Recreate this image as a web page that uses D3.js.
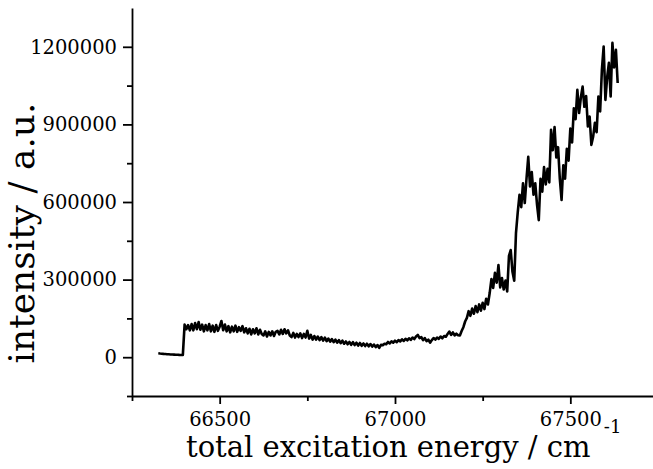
<!DOCTYPE html>
<html>
<head>
<meta charset="utf-8">
<script src="https://cdn.jsdelivr.net/npm/d3@7"></script>
<style>
  html, body { margin: 0; padding: 0; background: #fff; }
  svg { display: block; }
</style>
</head>
<body>
<svg id="chart" width="653" height="469"></svg>
<script>
// Scan grid (cm^-1)
const energies = [
  66325,66330,66335,66340,66345,66350,66355,66360,66365,66370,
  66375,66380,66385,66390,66395,66400,66405,66410,66415,66420,
  66425,66430,66435,66440,66445,66450,66455,66460,66465,66470,
  66475,66480,66485,66490,66495,66500,66505,66510,66515,66520,
  66525,66530,66535,66540,66545,66550,66555,66560,66565,66570,
  66575,66580,66585,66590,66595,66600,66605,66610,66615,66620,
  66625,66630,66635,66640,66645,66650,66655,66660,66665,66670,
  66675,66680,66685,66690,66695,66700,66705,66710,66715,66720,
  66725,66730,66735,66740,66745,66750,66755,66760,66765,66770,
  66775,66780,66785,66790,66795,66800,66805,66810,66815,66820,
  66825,66830,66835,66840,66845,66850,66855,66860,66865,66870,
  66875,66880,66885,66890,66895,66900,66905,66910,66915,66920,
  66925,66930,66935,66940,66945,66950,66955,66960,66965,66970,
  66975,66980,66985,66990,66995,67000,67005,67010,67015,67020,
  67025,67030,67035,67040,67045,67050,67055,67060,67065,67070,
  67075,67080,67085,67090,67095,67100,67105,67110,67115,67120,
  67125,67130,67135,67140,67145,67150,67155,67160,67165,67170,
  67175,67180,67185,67190,67195,67200,67205,67210,67215,67220,
  67225,67230,67235,67240,67245,67250,67255,67260,67265,67270,
  67275,67280,67285,67290,67295,67300,67305,67310,67315,67320,
  67325,67330,67335,67340,67345,67350,67355,67360,67365,67370,
  67375,67380,67385,67390,67395,67400,67405,67410,67415,67420,
  67425,67430,67435,67440,67445,67450,67455,67460,67465,67470,
  67475,67480,67485,67490,67495,67500,67505,67510,67515,67520,
  67525,67530,67535,67540,67545,67550,67555,67560,67565,67570,
  67575,67580,67585,67590,67595,67600,67605,67610,67615,67620,
  67625,67630,67635
];

// Measured signal (a.u.)
const intensities = [
  15000,14200,13600,12800,12300,11700,11200,10600,10200,9800,
  9400,9700,9100,8700,9000,126000,108000,124000,104000,128000,
  104000,132000,108000,136000,106000,126000,100000,124000,104000,128000,
  100000,122000,98000,124000,102000,118000,140000,104000,126000,100000,
  120000,96000,118000,100000,122000,98000,116000,102000,120000,96000,
  112000,92000,110000,88000,108000,92000,112000,88000,106000,90000,
  84000,100000,80000,98000,84000,100000,82000,98000,102000,88000,
  106000,90000,108000,92000,104000,84000,78000,94000,76000,90000,
  78000,92000,74000,90000,76000,102000,72000,86000,68000,82000,
  68000,80000,66000,78000,64000,76000,62000,72000,60000,70000,
  58000,68000,56000,66000,54000,64000,52000,61000,50000,59000,
  48000,58000,47000,56000,45000,55000,44000,53000,43000,52000,
  42000,51000,41000,49000,39000,47000,36000,48000,46000,52000,
  50000,59000,53000,61000,56000,64000,58000,66000,61000,69000,
  63000,71000,65000,73000,67000,76000,70000,80000,86000,74000,
  78000,66000,74000,62000,68000,56000,66000,74000,68000,76000,
  71000,80000,73000,82000,79000,90000,99000,86000,96000,84000,
  91000,85000,84000,101000,116000,138000,152000,178000,160000,188000,
  168000,198000,174000,204000,180000,210000,186000,226000,204000,248000,
  302000,268000,326000,288000,356000,270000,306000,262000,296000,254000,
  392000,414000,330000,296000,480000,560000,628000,580000,672000,596000,
  690000,775000,660000,716000,628000,672000,590000,530000,690000,640000,
  735000,668000,728000,676000,879000,800000,890000,772000,812000,690000,
  608000,742000,690000,806000,760000,884000,830000,962000,920000,1034000,
  944000,1004000,1046000,968000,1010000,892000,930000,821000,852000,906000,
  870000,1008000,950000,1111000,1201000,995000,1082000,1138000,1008000,1215000,
  1120000,1188000,1060000
];

const xMajorTicks = [66500, 67000, 67500];
const xMinorTicks = [66250, 66750, 67250, 67750];
const yMajorTicks = [0, 300000, 600000, 900000, 1200000];
const yMinorTicks = [-150000, 150000, 450000, 750000, 1050000];
const xTitle = "total excitation energy / cm";
const xTitleSup = "-1";
const yTitle = "intensity / a.u.";

const FONT = "'DejaVu Serif', 'Liberation Serif', serif";
const svg = d3.select("#chart");

const x = d3.scaleLinear().domain([66250, 67750]).range([132, 658]);
const y = d3.scaleLinear().domain([-150000, 1350000]).range([396, 8]);

const axisY0 = y.range()[0];
const axisX0 = x.range()[0];

// x axis: minor ticks, then major ticks with the axis line
const gxMinor = svg.append("g")
  .attr("transform", `translate(0,${axisY0})`)
  .call(d3.axisBottom(x).tickValues(xMinorTicks).tickSize(5).tickSizeOuter(0).tickFormat(""));
gxMinor.select(".domain").remove();

const gx = svg.append("g")
  .attr("transform", `translate(0,${axisY0})`)
  .call(d3.axisBottom(x).tickValues(xMajorTicks).tickSize(8).tickSizeOuter(0).tickPadding(8)
        .tickFormat(d3.format("d")));

// y axis
const gyMinor = svg.append("g")
  .attr("transform", `translate(${axisX0},0)`)
  .call(d3.axisLeft(y).tickValues(yMinorTicks).tickSize(5).tickSizeOuter(0).tickFormat(""));
gyMinor.select(".domain").remove();

const gy = svg.append("g")
  .attr("transform", `translate(${axisX0},0)`)
  .call(d3.axisLeft(y).tickValues(yMajorTicks).tickSize(9).tickSizeOuter(0).tickPadding(6)
        .tickFormat(d3.format("d")));

svg.selectAll(".domain, .tick line")
  .attr("stroke", "#000")
  .attr("stroke-width", 1.8);

svg.selectAll(".tick text")
  .attr("fill", "#000")
  .style("font-family", FONT)
  .style("font-size", "19.5px");

// spectrum trace
const line = d3.line()
  .x((d, i) => x(energies[i]))
  .y(d => y(d));

svg.append("path")
  .datum(intensities)
  .attr("fill", "none")
  .attr("stroke", "#000")
  .attr("stroke-width", 2.6)
  .attr("stroke-linejoin", "round")
  .attr("d", line);

// x axis title with superscript unit exponent
const xt = svg.append("text")
  .attr("x", 186)
  .attr("y", 457)
  .attr("text-anchor", "start")
  .style("font-family", FONT)
  .style("font-size", "29px")
  .attr("fill", "#000")
  .text(xTitle);

const titleEnd = 186 + xt.node().getComputedTextLength();
let labelEnd = 0;
gx.selectAll(".tick text").each(function () {
  const b = this.getBBox();
  const m = this.parentNode.transform.baseVal.consolidate().matrix;
  labelEnd = Math.max(labelEnd, m.e + b.x + b.width);
});

svg.append("text")
  .attr("x", Math.max(titleEnd + 1, labelEnd + 2))
  .attr("y", 433)
  .style("font-family", FONT)
  .style("font-size", "18px")
  .attr("fill", "#000")
  .text(xTitleSup);

svg.append("text")
  .attr("transform", "translate(34,233) rotate(-90)")
  .attr("text-anchor", "middle")
  .style("font-family", FONT)
  .style("font-size", "36px")
  .attr("fill", "#000")
  .text(yTitle);
</script>
</body>
</html>
